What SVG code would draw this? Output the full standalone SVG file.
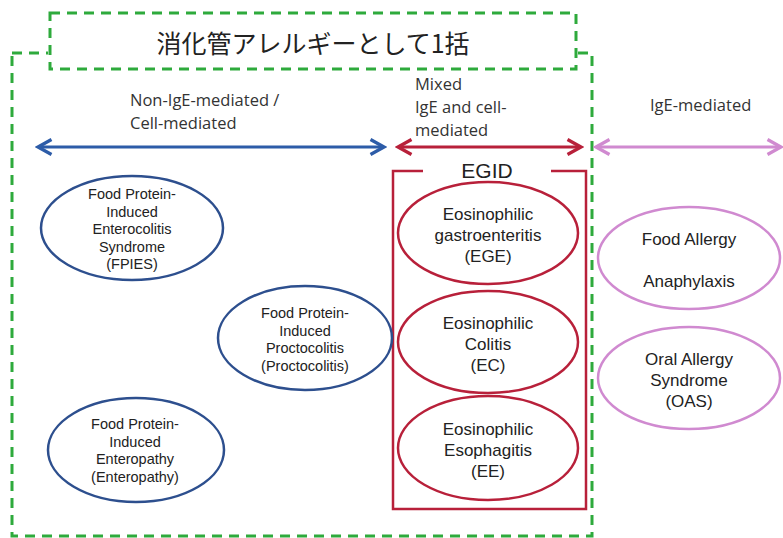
<svg xmlns="http://www.w3.org/2000/svg" width="783" height="538" viewBox="0 0 783 538">
<style>
.bg{fill:#fff}
.grn{fill:none;stroke:#2eaa3c;stroke-width:3;stroke-dasharray:10,7}
.lbl{font-family:"Open Sans","Liberation Sans",sans-serif;font-size:16.5px;fill:#333}
.nt{font-family:"Liberation Sans",Arial,sans-serif;fill:#222;text-anchor:middle}
.s14{font-size:14.5px}
.s16{font-size:17px}
.blue{fill:#fff;stroke:#2d4f8e;stroke-width:2.5}
.red{fill:#fff;stroke:#b8203a;stroke-width:2.5}
.pink{fill:#fff;stroke:#d08ad0;stroke-width:2.5}
</style>
<defs>
<marker id="hb" viewBox="0 0 12 12" refX="10" refY="6" markerWidth="6" markerHeight="6" orient="auto-start-reverse" markerUnits="strokeWidth"><path d="M1,1 L10,6 L1,11" fill="none" stroke="#2d5ca8" stroke-width="2.2"/></marker>
<marker id="hr" viewBox="0 0 12 12" refX="10" refY="6" markerWidth="6" markerHeight="6" orient="auto-start-reverse" markerUnits="strokeWidth"><path d="M1,1 L10,6 L1,11" fill="none" stroke="#b8203a" stroke-width="2.2"/></marker>
<marker id="hp" viewBox="0 0 12 12" refX="10" refY="6" markerWidth="6" markerHeight="6" orient="auto-start-reverse" markerUnits="strokeWidth"><path d="M1,1 L10,6 L1,11" fill="none" stroke="#d08ad0" stroke-width="2.2"/></marker>
</defs>
<rect class="bg" width="783" height="538"/>
<g id="frame">
<path class="grn" d="M50,13 H576 V69 H50 Z"/>
<path class="grn" d="M12,53 H48 M578,53 H592 V536 H12 V53"/>
<text x="313" y="53" text-anchor="middle" font-family="'Noto Sans CJK JP',sans-serif" font-size="25" fill="#222">消化管アレルギーとして1括</text>
</g>
<g id="connectors">
<line x1="38" y1="147" x2="384" y2="147" stroke="#2d5ca8" stroke-width="3" marker-start="url(#hb)" marker-end="url(#hb)"/>
<line x1="398" y1="147" x2="581" y2="147" stroke="#b8203a" stroke-width="3" marker-start="url(#hr)" marker-end="url(#hr)"/>
<line x1="596" y1="147" x2="781" y2="147" stroke="#d08ad0" stroke-width="3" marker-start="url(#hp)" marker-end="url(#hp)"/>
</g>
<g id="labels">
<text class="lbl" x="130" y="106">Non-IgE-mediated /</text>
<text class="lbl" x="130" y="129">Cell-mediated</text>
<text class="lbl" x="415" y="90">Mixed</text>
<text class="lbl" x="415" y="113">IgE and cell-</text>
<text class="lbl" x="415" y="136">mediated</text>
<text class="lbl" x="650" y="111">IgE-mediated</text>
</g>
<g id="egid">
<path d="M423,171 H393 V509 H586 V171 H551" fill="none" stroke="#b8203a" stroke-width="2.5"/>
<text class="nt" x="487" y="178" font-size="21">EGID</text>
</g>
<g id="fpies">
<ellipse class="blue" cx="132" cy="228" rx="91" ry="52"/>
<text class="nt s14" x="132" y="199">Food Protein-</text>
<text class="nt s14" x="132" y="216.5">Induced</text>
<text class="nt s14" x="132" y="234">Enterocolitis</text>
<text class="nt s14" x="132" y="251.5">Syndrome</text>
<text class="nt s14" x="132" y="269">(FPIES)</text>
</g>
<g id="proctocolitis">
<ellipse class="blue" cx="305" cy="338" rx="87" ry="52"/>
<text class="nt s14" x="305" y="318">Food Protein-</text>
<text class="nt s14" x="305" y="335.5">Induced</text>
<text class="nt s14" x="305" y="353">Proctocolitis</text>
<text class="nt s14" x="305" y="370.5">(Proctocolitis)</text>
</g>
<g id="enteropathy">
<ellipse class="blue" cx="136" cy="450" rx="88" ry="52"/>
<text class="nt s14" x="135" y="429">Food Protein-</text>
<text class="nt s14" x="135" y="446.5">Induced</text>
<text class="nt s14" x="135" y="464">Enteropathy</text>
<text class="nt s14" x="135" y="481.5">(Enteropathy)</text>
</g>
<g id="ege">
<ellipse class="red" cx="488" cy="233" rx="90" ry="51"/>
<text class="nt s16" x="488" y="220">Eosinophilic</text>
<text class="nt s16" x="488" y="241">gastroenteritis</text>
<text class="nt s16" x="488" y="262">(EGE)</text>
</g>
<g id="ec">
<ellipse class="red" cx="488" cy="342" rx="90" ry="51"/>
<text class="nt s16" x="488" y="329">Eosinophilic</text>
<text class="nt s16" x="488" y="350">Colitis</text>
<text class="nt s16" x="488" y="371">(EC)</text>
</g>
<g id="ee">
<ellipse class="red" cx="488" cy="448" rx="90" ry="52"/>
<text class="nt s16" x="488" y="435">Eosinophilic</text>
<text class="nt s16" x="488" y="456">Esophagitis</text>
<text class="nt s16" x="488" y="477">(EE)</text>
</g>
<g id="food-allergy">
<ellipse class="pink" cx="689" cy="258" rx="91" ry="51"/>
<text class="nt s16" x="689" y="245">Food Allergy</text>
<text class="nt s16" x="689" y="287">Anaphylaxis</text>
</g>
<g id="oas">
<ellipse class="pink" cx="689" cy="378" rx="91" ry="51"/>
<text class="nt s16" x="689" y="365">Oral Allergy</text>
<text class="nt s16" x="689" y="386">Syndrome</text>
<text class="nt s16" x="689" y="407">(OAS)</text>
</g>
</svg>
